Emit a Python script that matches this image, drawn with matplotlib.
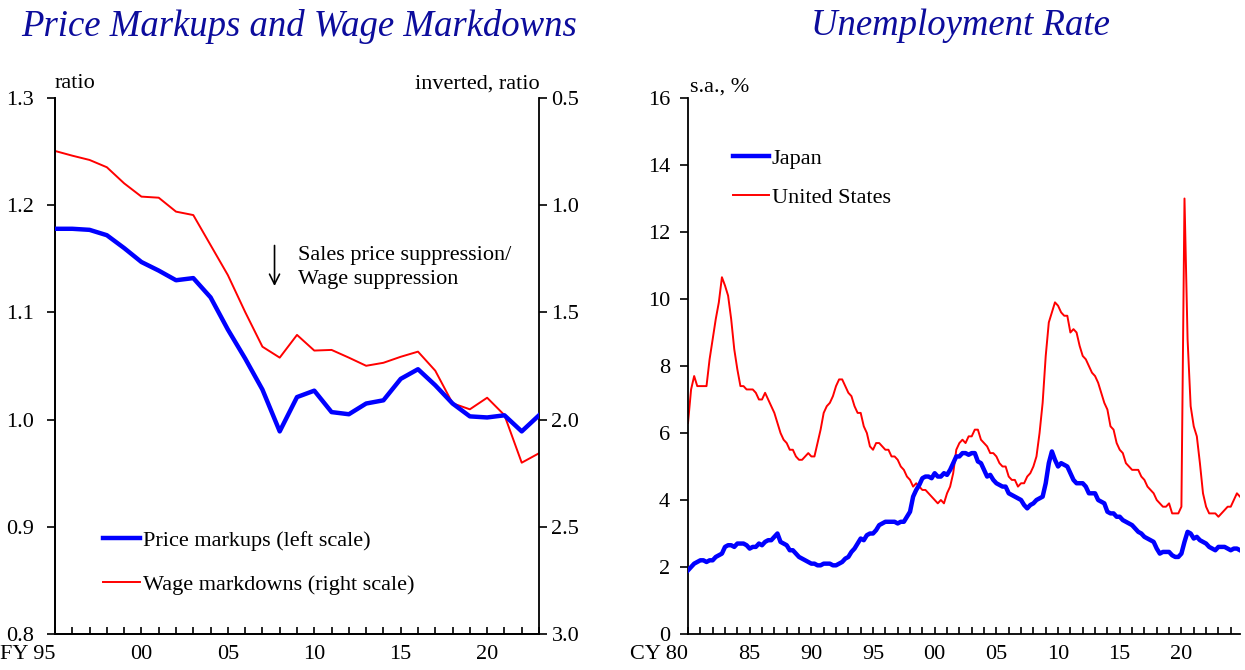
import numpy as np
import matplotlib
matplotlib.use('Agg')
import matplotlib.pyplot as plt
from matplotlib.transforms import ScaledTranslation

plt.rcParams['font.family'] = ['Liberation Serif', 'DejaVu Serif']
plt.rcParams['font.size'] = 16

# ---- left panel: fiscal-year ratios, FY1995..FY2023
fy = list(range(1995, 2024))
price_markups = [1.178, 1.178, 1.177, 1.172, 1.160, 1.147, 1.139, 1.130, 1.132, 1.114,
                 1.084, 1.057, 1.028, 0.989, 1.021, 1.027, 1.007, 1.005, 1.015, 1.018,
                 1.038, 1.047, 1.032, 1.015, 1.003, 1.002, 1.004, 0.989, 1.004]
wage_markdowns = [0.747, 0.769, 0.789, 0.823, 0.898, 0.960, 0.965, 1.030, 1.046, 1.186,
                  1.326, 1.498, 1.660, 1.711, 1.605, 1.678, 1.675, 1.711, 1.749, 1.735,
                  1.707, 1.683, 1.772, 1.924, 1.952, 1.898, 1.979, 2.201, 2.157]

# ---- right panel: quarterly unemployment rate, 1980Q1..2024Q4 (s.a., %)
start_year = 1980
us_rate = [6.3, 7.3, 7.7, 7.4,  7.4, 7.4, 7.4, 8.2,  8.8, 9.4, 9.9, 10.65,  10.4, 10.1, 9.4, 8.5,
           7.9, 7.4, 7.4, 7.3,  7.3, 7.3, 7.2, 7.0,  7.0, 7.2, 7.0, 6.8,  6.6, 6.3, 6.0, 5.8,
           5.7, 5.5, 5.5, 5.3,  5.2, 5.2, 5.3, 5.4,  5.3, 5.3, 5.7, 6.1,  6.6, 6.8, 6.9, 7.1,
           7.4, 7.6, 7.6, 7.4,  7.2, 7.1, 6.8, 6.6,  6.6, 6.2, 6.0, 5.6,  5.5, 5.7, 5.7, 5.6,
           5.5, 5.5, 5.3, 5.3,  5.2, 5.0, 4.9, 4.7,  4.6, 4.4, 4.5, 4.4,  4.3, 4.3, 4.2, 4.1,
           4.0, 3.9, 4.0, 3.9,  4.2, 4.4, 4.8, 5.5,  5.7, 5.8, 5.7, 5.9,  5.9, 6.1, 6.1, 5.8,
           5.7, 5.6, 5.4, 5.4,  5.3, 5.1, 5.0, 5.0,  4.7, 4.6, 4.6, 4.4,  4.5, 4.5, 4.7, 4.8,
           5.0, 5.3, 6.0, 6.9,  8.3, 9.3, 9.6, 9.9,  9.8, 9.6, 9.5, 9.5,  9.0, 9.1, 9.0, 8.6,
           8.3, 8.2, 8.0, 7.8,  7.7, 7.5, 7.2, 6.9,  6.7, 6.2, 6.1, 5.7,  5.5, 5.4, 5.1, 5.0,
           4.9, 4.9, 4.9, 4.7,  4.6, 4.4, 4.3, 4.2,  4.0, 3.9, 3.8, 3.8,  3.9, 3.6, 3.6, 3.6,
           3.8, 13.0, 8.8, 6.8,  6.2, 5.9, 5.1, 4.2,  3.8, 3.6, 3.6, 3.6,  3.5, 3.6, 3.7, 3.8,
           3.8, 4.0, 4.2, 4.1]
jp_rate = [1.9, 2.0, 2.1, 2.15,  2.2, 2.2, 2.15, 2.2,  2.2, 2.3, 2.35, 2.4,  2.6, 2.65, 2.65, 2.6,
           2.7, 2.7, 2.7, 2.65,  2.55, 2.6, 2.6, 2.7,  2.65, 2.75, 2.8, 2.8,  2.9, 3.0, 2.75, 2.7,
           2.65, 2.5, 2.5, 2.4,  2.3, 2.25, 2.2, 2.15,  2.1, 2.1, 2.05, 2.05,  2.1, 2.1, 2.1, 2.05,
           2.05, 2.1, 2.15, 2.25,  2.3, 2.45, 2.55, 2.7,  2.85, 2.8, 2.95, 3.0,  3.0, 3.1, 3.25, 3.3,
           3.35, 3.35, 3.35, 3.35,  3.3, 3.35, 3.35, 3.5,  3.65, 4.1, 4.3, 4.45,  4.65, 4.7, 4.7, 4.65,
           4.8, 4.7, 4.7, 4.8,  4.75, 4.9, 5.1, 5.3,  5.3, 5.4, 5.4, 5.35,  5.4, 5.4, 5.15, 5.1,
           4.9, 4.7, 4.75, 4.6,  4.5, 4.45, 4.4, 4.4,  4.2, 4.15, 4.1, 4.05,  4.0, 3.85, 3.75, 3.85,
           3.9, 4.0, 4.05, 4.1,  4.5, 5.1, 5.45, 5.2,  5.0, 5.1, 5.05, 5.0,  4.8, 4.6, 4.5, 4.5,
           4.5, 4.4, 4.2, 4.2,  4.2, 4.0, 3.95, 3.9,  3.65, 3.6, 3.6, 3.5,  3.5, 3.4, 3.35, 3.3,
           3.25, 3.15, 3.05, 3.0,  2.9, 2.85, 2.8, 2.75,  2.55, 2.4, 2.45, 2.45,  2.45, 2.35, 2.3, 2.3,
           2.4, 2.75, 3.05, 3.0,  2.85, 2.9, 2.8, 2.75,  2.7, 2.6, 2.55, 2.5,  2.6, 2.6, 2.6, 2.55,
           2.5, 2.55, 2.55, 2.5]

title_color = '#0C0C9C'
W, H = 1245, 670

fig = plt.figure(figsize=(W / 100, H / 100), dpi=100)


def shift_first_label(ax, dx_px):
    lab = ax.get_xticklabels()[0]
    lab.set_horizontalalignment('right')
    lab.set_transform(lab.get_transform() + ScaledTranslation(dx_px / 100, 0, fig.dpi_scale_trans))


# ================= left panel =================
ax1 = fig.add_axes([55 / W, 36 / H, 484 / W, 536 / H])
ax2 = ax1.twinx()
ax1.plot(fy, price_markups, color='#0000FF', lw=3.2, label='Price markups (left scale)', zorder=3)
ax2.plot(fy, wage_markdowns, color='#FF0000', lw=1.4, label='Wage markdowns (right scale)')

ax1.set_xlim(1995, 2023)
ax1.set_ylim(0.8, 1.3)
ax1.set_yticks(np.arange(0.8, 1.31, 0.1))
ax1.set_yticklabels(['%.1f' % v for v in np.arange(0.8, 1.31, 0.1)])
ax2.set_ylim(3.0, 0.5)
ax2.set_yticks(np.arange(0.5, 3.01, 0.5))
ax2.set_yticklabels(['%.1f' % v for v in np.arange(0.5, 3.01, 0.5)])

ax1.set_xticks(range(1995, 2024))
ax1.set_xticklabels([('FY 95' if y == 1995 else '%02d' % (y % 100)) if y % 5 == 0 else ''
                     for y in range(1995, 2024)])
shift_first_label(ax1, 10)

for a in (ax1, ax2):
    a.spines['top'].set_visible(False)
    for s in a.spines.values():
        s.set_linewidth(1.3)
ax1.spines['right'].set_visible(False)
ax1.tick_params(axis='x', direction='in', length=5, width=1.2, pad=8)
ax1.tick_params(axis='y', direction='out', length=6, width=1.2, pad=9)
ax2.tick_params(axis='y', direction='out', length=6, width=1.2, pad=3)
ax2.set_zorder(ax1.get_zorder() - 1)
ax1.patch.set_visible(False)

ax1.annotate('', xy=(2007.7, 1.122), xytext=(2007.7, 1.165),
             arrowprops=dict(arrowstyle='->', color='black', lw=1.2, mutation_scale=18))
ax1.text(2009.05, 1.162, 'Sales price suppression/\nWage suppression', va='top', ha='left',
         linespacing=1.36)

h1, l1 = ax1.get_legend_handles_labels()
h2, l2 = ax2.get_legend_handles_labels()
ax1.legend(h1 + h2, l1 + l2, loc='upper left', bbox_to_anchor=(103 / W, 1 - 530 / H),
           bbox_transform=fig.transFigure, frameon=False, borderpad=0, borderaxespad=0,
           handlelength=1.67, handletextpad=0.14, labelspacing=1.08)

fig.text(55 / W, 1 - 84 / H, 'ratio', va='center', ha='left')
fig.text(540 / W, 1 - 84 / H, 'inverted, ratio', va='center', ha='right')
fig.text(299 / W, 1 - 26 / H, 'Price Markups and Wage Markdowns', ha='center', va='center',
         style='italic', fontsize=26.5, color=title_color)

# ================= right panel =================
ax3 = fig.add_axes([688 / W, 36 / H, 552 / W, 536 / H])
qx = start_year + np.arange(len(us_rate)) / 4
ax3.plot(qx, jp_rate, color='#0000FF', lw=3.2, label='Japan', zorder=3)
ax3.plot(qx, us_rate, color='#FF0000', lw=1.4, label='United States')
ax3.set_xlim(qx[0], qx[-1])
ax3.set_ylim(0, 16)
ax3.set_yticks(range(0, 17, 2))
ax3.set_xticks(range(1980, 2025))
ax3.set_xticklabels([('CY 80' if y == 1980 else '%02d' % (y % 100)) if y % 5 == 0 else ''
                     for y in range(1980, 2025)])
shift_first_label(ax3, 10)
ax3.spines['top'].set_visible(False)
ax3.spines['right'].set_visible(False)
for s in ax3.spines.values():
    s.set_linewidth(1.3)
ax3.tick_params(axis='x', direction='in', length=5, width=1.2, pad=8)
ax3.tick_params(axis='y', direction='out', length=6, width=1.2, pad=7)
ax3.legend(loc='upper left', bbox_to_anchor=(733 / W, 1 - 148 / H),
           bbox_transform=fig.transFigure, frameon=False, borderpad=0, borderaxespad=0,
           handlelength=1.6, handletextpad=0.14, labelspacing=0.85)

fig.text(690 / W, 1 - 87 / H, 's.a., %', va='center', ha='left')
fig.text(960 / W, 1 - 26 / H, 'Unemployment Rate', ha='center', va='center',
         style='italic', fontsize=26.5, color=title_color)

fig.savefig('out.png', dpi=100)
